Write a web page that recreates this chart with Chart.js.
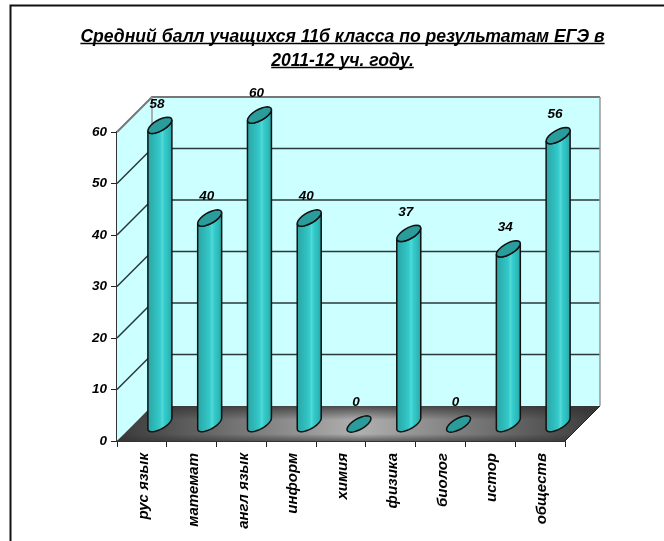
<!DOCTYPE html>
<html><head><meta charset="utf-8">
<style>html,body{margin:0;padding:0;background:#fff}canvas{display:block}</style>
<script src="https://cdn.jsdelivr.net/npm/chart.js@4"></script>
</head><body><canvas id="c" width="664" height="541"></canvas>
<script>
const categories = ['рус язык','математ','англ язык','информ','химия','физика','биолог','истор','обществ'];
const scores = [58,40,60,40,0,37,0,34,56];
const titleLines = ['Средний балл учащихся 11б класса по результатам ЕГЭ в','2011-12 уч. году.'];
const yTicks = [0,10,20,30,40,50,60];
const DEPTH = 35, BAR_DX = 18, BAR_DY = 17;
const FONT = '"Liberation Sans", Arial, sans-serif';
const TITLE_SIZE = 17.6, TITLE_LINE = 24, TITLE_TOP = 25;

const scene = {
  id:'scene',
  afterLayout(chart){
    const a=chart.chartArea;
    chart.titleBlock.left=a.left-40;
    chart.titleBlock.right=a.right+43;
  },
  beforeDatasetsDraw(chart){
    const ctx=chart.ctx,{left:L,right:R,top:T,bottom:B}=chart.chartArea,ys=chart.scales.y;
    ctx.save();
    // frame
    ctx.strokeStyle='#111';ctx.lineWidth=2;
    ctx.beginPath();ctx.moveTo(10.5,541);ctx.lineTo(10.5,5.5);ctx.lineTo(664,5.5);ctx.stroke();
    // walls
    ctx.fillStyle='#ccffff';
    ctx.fillRect(L+DEPTH,T-DEPTH,R-L,B-T);
    ctx.beginPath();ctx.moveTo(L,B);ctx.lineTo(L,T);ctx.lineTo(L+DEPTH,T-DEPTH);ctx.lineTo(L+DEPTH,B-DEPTH);ctx.closePath();ctx.fill();
    // floor
    ctx.save();
    ctx.beginPath();ctx.moveTo(L,B);ctx.lineTo(R,B);ctx.lineTo(R+DEPTH,B-DEPTH);ctx.lineTo(L+DEPTH,B-DEPTH);ctx.closePath();ctx.clip();
    let g=ctx.createLinearGradient(L,0,R+DEPTH,0);
    g.addColorStop(0,'#3a3a3a');g.addColorStop(.5,'#b0b0b0');g.addColorStop(1,'#3a3a3a');
    ctx.fillStyle=g;ctx.fillRect(L,B-DEPTH,R-L+DEPTH,DEPTH);
    g=ctx.createLinearGradient(0,B-DEPTH,0,B);
    g.addColorStop(0,'rgba(50,50,50,.8)');g.addColorStop(.4,'rgba(50,50,50,0)');g.addColorStop(.8,'rgba(50,50,50,0)');g.addColorStop(1,'rgba(50,50,50,.6)');
    ctx.fillStyle=g;ctx.fillRect(L,B-DEPTH,R-L+DEPTH,DEPTH);
    ctx.restore();
    // gridlines
    ctx.strokeStyle='#2a3a3a';ctx.lineWidth=1.5;
    yTicks.forEach(v=>{
      if(v===0||v===60) return;
      const y=ys.getPixelForValue(v);
      ctx.beginPath();ctx.moveTo(L,y);ctx.lineTo(L+DEPTH,y-DEPTH);ctx.lineTo(R+DEPTH,y-DEPTH);ctx.stroke();
    });
    // wall edges
    ctx.strokeStyle='#777';ctx.lineWidth=2;
    ctx.beginPath();ctx.moveTo(L,T);ctx.lineTo(L+DEPTH,T-DEPTH);ctx.lineTo(R+DEPTH,T-DEPTH);ctx.stroke();
    ctx.strokeStyle='#999';ctx.lineWidth=1.5;
    ctx.beginPath();ctx.moveTo(R+DEPTH,T-DEPTH);ctx.lineTo(R+DEPTH,B-DEPTH);ctx.moveTo(L+DEPTH,T-DEPTH);ctx.lineTo(L+DEPTH,B-DEPTH);ctx.stroke();
    ctx.strokeStyle='#fff';ctx.lineWidth=1.5;
    ctx.beginPath();ctx.moveTo(R+1,B);ctx.lineTo(R+DEPTH+1,B-DEPTH);ctx.stroke();
    ctx.strokeStyle='#222';ctx.lineWidth=1;
    ctx.beginPath();ctx.moveTo(R,B);ctx.lineTo(R+DEPTH,B-DEPTH);ctx.stroke();

    // cylinders
    const meta=chart.getDatasetMeta(0);
    const ell=(cx,cy,r,a,b,t)=>[cx+r*Math.cos(t)+a*Math.sin(t),cy-b*Math.sin(t)];
    meta.data.forEach((el,i)=>{
      const cx=el.x+BAR_DX, hw=el.width/2, r=hw*.75, a=hw*.66, b=hw*.68;
      const top=el.y-BAR_DY, base=el.base-BAR_DY;
      const tm=Math.atan2(a,r);
      const path=(cy,from,to)=>{for(let k=0;k<=24;k++){const t=from+(to-from)*k/24;const p=ell(cx,cy,r,a,b,t);ctx.lineTo(p[0],p[1]);}};
      if(scores[i]>0){
        const g=ctx.createLinearGradient(cx-hw,0,cx+hw,0);
        g.addColorStop(0,'#2aa6a6');g.addColorStop(.3,'#30baba');g.addColorStop(.5,'#33caca');
        g.addColorStop(.6,'#55d8d8');g.addColorStop(.68,'#35cdcd');g.addColorStop(.88,'#2eb8b8');g.addColorStop(1,'#2aa2a2');
        ctx.beginPath();
        path(top,tm+Math.PI,tm+2*Math.PI);
        path(base,tm,tm-Math.PI);
        ctx.closePath();
        ctx.fillStyle=g;ctx.fill();
        ctx.strokeStyle='#111';ctx.lineWidth=1.5;ctx.stroke();
      }
      ctx.beginPath();path(top,0,2*Math.PI);ctx.closePath();
      ctx.fillStyle='#2a9c9c';ctx.fill();
      ctx.strokeStyle='#111';ctx.lineWidth=1.5;ctx.stroke();
    });
    // value labels
    ctx.fillStyle='#000';ctx.font='italic bold 13.5px '+FONT;ctx.textAlign='center';ctx.textBaseline='middle';
    meta.data.forEach((el,i)=>ctx.fillText(String(scores[i]),el.x+15,el.y-38.5));
    // title underline
    const tb=chart.titleBlock,cxT=(tb.left+tb.right)/2;
    ctx.font='italic bold '+TITLE_SIZE+'px '+FONT;ctx.strokeStyle='#000';ctx.lineWidth=1.6;
    titleLines.forEach((s,i)=>{
      const w=ctx.measureText(s).width,y=tb.top+TITLE_TOP+i*TITLE_LINE+18.5;
      ctx.beginPath();ctx.moveTo(cxT-w/2,y);ctx.lineTo(cxT+w/2,y);ctx.stroke();
    });
    ctx.restore();
    return false;
  }
};

new Chart(document.getElementById('c'),{
  type:'bar',
  data:{labels:categories,datasets:[{data:scores,backgroundColor:'#33cccc',borderColor:'#111',barThickness:24}]},
  plugins:[scene],
  options:{
    responsive:false,animation:false,
    layout:{padding:{left:0,right:99,top:0,bottom:0}},
    plugins:{
      legend:{display:false},tooltip:{enabled:false},
      title:{display:true,fullSize:false,text:titleLines,color:'#000',
        font:{family:FONT,size:TITLE_SIZE,weight:'bold',style:'italic',lineHeight:TITLE_LINE/TITLE_SIZE},
        padding:{top:TITLE_TOP,bottom:59}}
    },
    scales:{
      x:{offset:true,
        grid:{display:true,drawOnChartArea:false,drawTicks:true,tickLength:6,color:'#222',offset:true},
        border:{display:true,color:'#333',width:2},
        afterFit(s){s.height=100;},
        ticks:{autoSkip:false,minRotation:90,maxRotation:90,padding:6,labelOffset:2,color:'#000',font:{family:FONT,size:15,weight:'bold',style:'italic'}}},
      y:{min:0,max:60,
        afterBuildTicks(s){s.ticks=yTicks.map(v=>({value:v}));},
        afterFit(s){s.width=117;},
        grid:{display:true,drawOnChartArea:false,drawTicks:true,tickLength:6,color:'#222'},
        border:{display:true,color:'#333',width:2},
        ticks:{padding:4,color:'#000',font:{family:FONT,size:13.5,weight:'bold',style:'italic'}}}
    }
  }
});
</script></body></html>
